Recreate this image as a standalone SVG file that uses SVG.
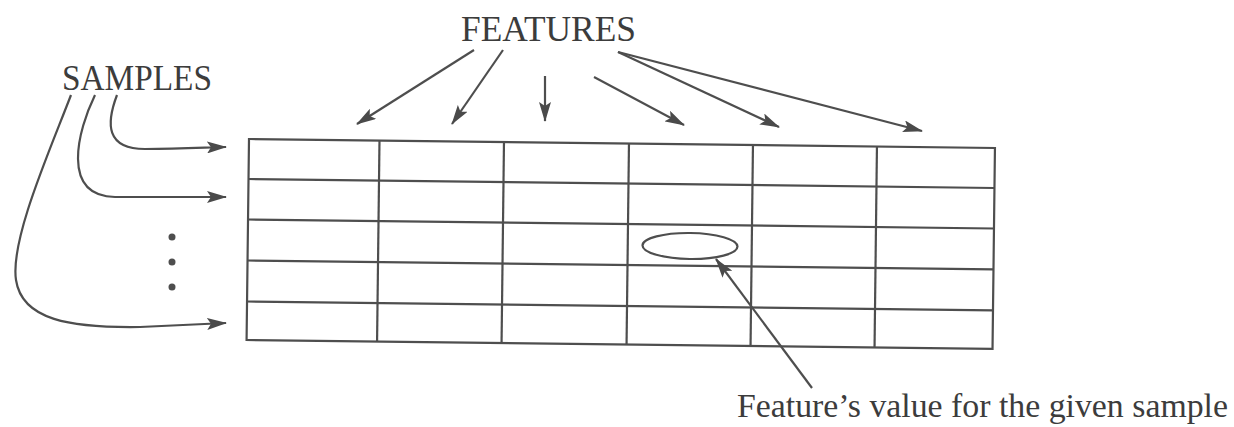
<svg xmlns="http://www.w3.org/2000/svg" width="1234" height="427" viewBox="0 0 1234 427">
  <style>
    .lbl { font-family: "Liberation Serif", "Times New Roman", serif; fill: #3c3c3c; }
    .ln { fill: none; stroke: #4e4e4e; stroke-width: 2.2; }
    .grid { fill: none; stroke: #4e4e4e; stroke-width: 2.2; }
    .dot { fill: #4e4e4e; }
  </style>
  <defs>
    <marker id="head" viewBox="0 0 20 12" refX="19" refY="6" markerWidth="20" markerHeight="12" markerUnits="userSpaceOnUse" orient="auto">
      <path d="M0,0 L20,6 L0,12 L4,6 Z" fill="#4a4a4a"/>
    </marker>
  </defs>
  <rect width="1234" height="427" fill="#ffffff"/>

  <!-- data table: 5 sample rows x 6 feature columns -->
  <g id="table" class="grid" transform="rotate(0.69 249 139)">
    <rect x="249" y="139" width="746" height="201"/>
    <line x1="379.5" y1="139" x2="379.5" y2="340"/>
    <line x1="504" y1="139" x2="504" y2="340"/>
    <line x1="629" y1="139" x2="629" y2="340"/>
    <line x1="753" y1="139" x2="753" y2="340"/>
    <line x1="877" y1="139" x2="877" y2="340"/>
    <line x1="249" y1="179" x2="995" y2="179"/>
    <line x1="249" y1="219.5" x2="995" y2="219.5"/>
    <line x1="249" y1="260.5" x2="995" y2="260.5"/>
    <line x1="249" y1="301.5" x2="995" y2="301.5"/>
  </g>

  <!-- highlighted cell value -->
  <g id="value">
    <ellipse cx="690" cy="246" rx="47.5" ry="13" class="ln" transform="rotate(0.69 690 246)"/>
  </g>

  <!-- labels -->
  <g id="features-label">
    <text class="lbl" x="461" y="41" font-size="35" textLength="175" lengthAdjust="spacingAndGlyphs">FEATURES</text>
  </g>
  <g id="samples-label">
    <text class="lbl" x="62" y="90" font-size="35" textLength="150" lengthAdjust="spacingAndGlyphs">SAMPLES</text>
  </g>
  <g id="value-label">
    <text class="lbl" x="737" y="417" font-size="33" textLength="491" lengthAdjust="spacingAndGlyphs">Feature’s value for the given sample</text>
  </g>

  <!-- elided rows -->
  <g id="ellipsis">
    <circle class="dot" cx="172" cy="237" r="3.5"/>
    <circle class="dot" cx="172" cy="262" r="3.5"/>
    <circle class="dot" cx="172" cy="287" r="3.5"/>
  </g>

  <!-- connectors -->
  <g id="connectors" class="ln" marker-end="url(#head)">
    <!-- features to columns -->
    <line x1="474" y1="50" x2="357" y2="124"/>
    <line x1="503" y1="50" x2="452" y2="124"/>
    <line x1="545" y1="76" x2="545" y2="121"/>
    <line x1="594" y1="77" x2="684" y2="125"/>
    <line x1="618" y1="52" x2="779" y2="127"/>
    <line x1="618" y1="52" x2="922" y2="131"/>
    <!-- samples to rows -->
    <path d="M117,95 C106,124 106,149 145,149 C180,149 205,147.5 226,147"/>
    <path d="M95,95 C78,130 60,196 115,197 L226,197"/>
    <path d="M71,95 C50,150 10,240 16,280 C22,320 70,328 140,327 L226,323"/>
    <!-- label to highlighted value -->
    <line x1="812" y1="388" x2="716" y2="259"/>
  </g>
</svg>
